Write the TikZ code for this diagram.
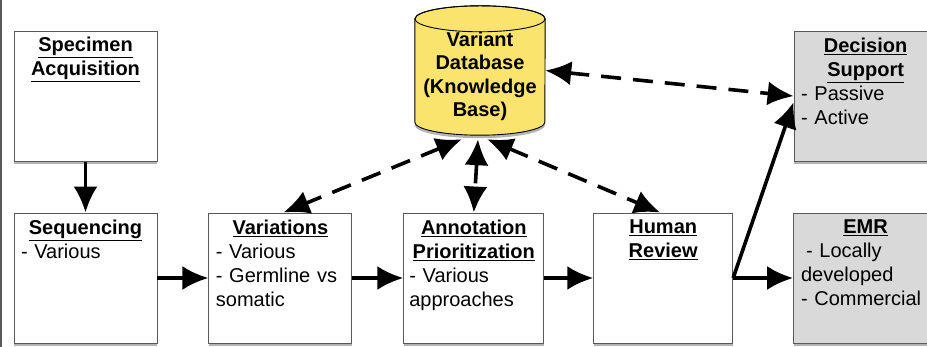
\documentclass[tikz,border=0pt]{standalone}
\usepackage{fontspec}
\setmainfont{Liberation Sans}
\usetikzlibrary{arrows.meta,positioning,shadows}
\definecolor{dbyellow}{RGB}{250,228,110}
\newcommand{\hd}[1]{\underline{\textbf{#1}}}

\begin{document}
\begin{tikzpicture}[x=1pt,y=1pt,>={Latex[length=26pt,width=24pt]},node distance=51pt,
  box/.style={draw=black!65,line width=0.9pt,fill=white,minimum width=143pt,minimum height=130pt,inner sep=0pt,
    drop shadow={shadow xshift=0pt,shadow yshift=-3pt,opacity=0.6}},
  grey/.style={box,fill=black!15},
  txt/.style={text width=129pt,inner sep=0pt,font=\fontsize{20}{24}\selectfont},
  flow/.style={->,line width=3.6pt},
  link/.style={<->,line width=3.6pt,dash pattern=on 20pt off 12pt}]
  \useasboundingbox (0,0) rectangle (927,347);
  \draw[black!65,line width=2pt] (1,0) -- (1,347);

  % boxes
  \node[box] (seq) at (85.5,69) {};
  \node[box,above=of seq] (spec) {};
  \node[box,right=of seq] (var) {};
  \node[box,right=of var,minimum width=140pt] (ann) {};
  \node[box,right=49pt of ann,minimum width=139pt] (hum) {};
  \node[grey,right=60pt of hum,minimum width=144pt] (emr) {};
  \node[grey,above=of emr] (dec) {};

  % database cylinder
  \node[minimum width=130pt,minimum height=129pt,inner sep=0pt] (db) at (480,276.5) {};
  \path[draw,line width=0.9pt,fill=dbyellow,drop shadow={shadow xshift=0pt,shadow yshift=-3pt,opacity=0.6}]
    ([yshift=-13pt]db.north west) -- ([yshift=13pt]db.south west)
    arc[start angle=180,end angle=360,x radius=65pt,y radius=13pt]
    -- ([yshift=-13pt]db.north east)
    arc[start angle=0,end angle=180,x radius=65pt,y radius=13pt] -- cycle;
  \draw[line width=0.9pt] ([yshift=-13pt]db.north) ellipse[x radius=65pt,y radius=13pt];

  % texts
  \node[txt,below=6pt of spec.north] (spectxt) {\centering\hd{Specimen}\par\hd{Acquisition}\par};
  \node[txt,below=7pt of seq.north] (seqtxt) {\centering\hd{Sequencing}\par\raggedright - Various\par};
  \node[txt,below=7pt of var.north] (vartxt) {\centering\hd{Variations}\par\raggedright - Various\par - Germline vs\par somatic\par};
  \node[txt,below=7pt of ann.north] (anntxt) {\centering\hd{Annotation}\par\hd{Prioritization}\par\raggedright - Various\par approaches\par};
  \node[txt,below=7pt of hum.north] (humtxt) {\centering\hd{Human}\par\hd{Review}\par};
  \node[txt,below=7pt of emr.north] (emrtxt) {\centering\hd{EMR}\par\raggedright\hspace*{5pt}- Locally\par developed\par - Commercial\par};
  \node[txt,below=7pt of dec.north] (dectxt) {\centering\hd{Decision}\par\hd{Support}\par\raggedright - Passive\par - Active\par};
  \node[txt,align=center,font=\fontsize{20}{23.5}\selectfont\bfseries] (dbtxt) at ([yshift=-6pt]db.center) {Variant\\Database\\(Knowledge\\Base)};

  % arrows
  \draw[flow] (spec) -- (seq);
  \draw[flow] (seq) -- (var);
  \draw[flow] (var) -- (ann);
  \draw[flow] (ann) -- (hum);
  \draw[flow] (hum.east) -- (emr);
  \draw[flow] (hum.east) -- ([yshift=-6pt]dec.west);
  \draw[link] (db.east) -- (dec.west);
  \draw[link] ([xshift=-18pt,yshift=-4pt]db.south) -- ([xshift=3pt]var.north);
  \draw[link] ([xshift=-2pt,yshift=-4pt]db.south) -- (ann.north);
  \draw[link] ([xshift=7pt,yshift=-4pt]db.south) -- ([xshift=-3pt]hum.north);
\end{tikzpicture}
\end{document}
